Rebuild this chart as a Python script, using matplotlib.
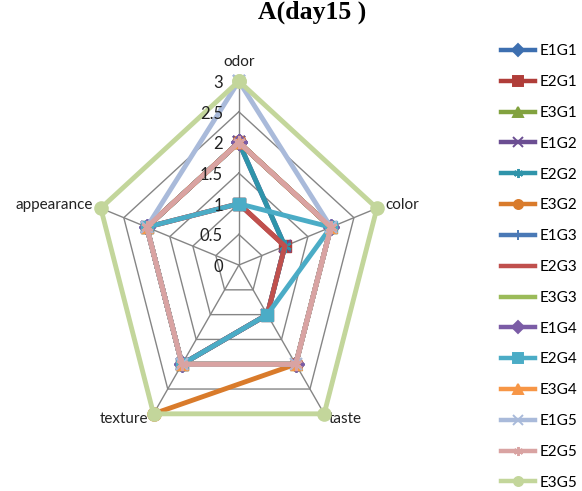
#%% Initialize workspace
import numpy as np
import matplotlib.pyplot as plt
from matplotlib.lines import Line2D

#%% data
categories = ["odor", "color", "taste", "texture", "appearance"]
series_names = ["E1G1", "E2G1", "E3G1", "E1G2", "E2G2", "E3G2", "E1G3", "E2G3",
                "E3G3", "E1G4", "E2G4", "E3G4", "E1G5", "E2G5", "E3G5"]
values = [
    [2, 2, 2, 2, 2],        # E1G1
    [1, 1, 1, 2, 2],        # E2G1
    [2, 2, 2, 2, 2],        # E3G1
    [2, 1, 1, 2, 2],        # E1G2
    [2, 1, 1, 2, 2],        # E2G2
    [2, 2, 2, 3, np.nan],   # E3G2 (appearance not visible)
    [2, 2, 2, 2, 2],        # E1G3
    [1, 1, 1, 2, 2],        # E2G3
    [2, 2, 2, 2, 2],        # E3G3
    [2, 2, 2, 2, 2],        # E1G4
    [1, 2, 1, 2, 2],        # E2G4
    [2, 2, 2, 2, 2],        # E3G4
    [3, 2, 2, 2, 2],        # E1G5
    [2, 2, 2, 2, 2],        # E2G5
    [3, 3, 3, 3, 3],        # E3G5
]
tick_values = [0, 0.5, 1, 1.5, 2, 2.5, 3]

#%% styles
colors = ["#3d6fb0", "#b03d39", "#82a23f", "#6b4e92", "#2f94aa", "#d97b2b",
          "#4a79b6", "#c0504d", "#9bbb59", "#7b5ca6", "#4bacc6", "#f79646",
          "#a9bada", "#d9a3a2", "#c3d69b"]
markers = ["D", "s", "^", "x", (6, 2, 0), "o", "|", None,
           None, "D", "s", "^", "x", (6, 2, 0), "o"]

#%% geometry
n = len(categories)
theta = np.arange(n) * 2 * np.pi / n

def to_xy(r):
    r = np.asarray(r, dtype=float)
    return r * np.sin(theta), r * np.cos(theta)

fig = plt.figure(figsize=(5.82, 4.91), dpi=100)
ax = fig.add_axes([0.1194, 0.0232, 0.582, 0.874])
ax.set_xlim(-3.5, 3.5)
ax.set_ylim(-3.5, 3.5)
ax.axis("off")

grid_col = "#858585"
for t in tick_values[1:]:
    gx, gy = to_xy([t] * n)
    ax.plot(np.append(gx, gx[0]), np.append(gy, gy[0]), color=grid_col, lw=1.0, zorder=1)
sx, sy = to_xy([3] * n)
for i in range(n):
    ax.plot([0, sx[i]], [0, sy[i]], color=grid_col, lw=1.0, zorder=1)

#%% series
for k, (name, vals) in enumerate(zip(series_names, values)):
    px, py = to_xy(vals)
    m = markers[k]
    ms = 9.5 if m == "o" else (8.5 if m in ("s", "D", "^") else 9)
    mew = 1.6 if m in ("x", "|", (6, 2, 0)) else 1
    ax.plot(np.append(px, px[0]), np.append(py, py[0]), color=colors[k], lw=3.5,
            marker=m, markersize=ms, markeredgewidth=mew,
            markerfacecolor=colors[k], markeredgecolor=colors[k],
            solid_joinstyle="miter", zorder=2 + k, label=name)

#%% labels
lab_font = dict(family="Lato", fontsize=11, color="#222222")
ax.text(0, 3.2, "odor", ha="center", va="bottom", **lab_font)
lx, ly = to_xy([3.18] * n)
ax.text(lx[1], ly[1], "color", ha="left", va="center", **lab_font)
ax.text(sx[2] + 0.1, sy[2] - 0.09, "taste", ha="left", va="center", **lab_font)
ax.text(sx[3] - 0.1, sy[3] - 0.09, "texture", ha="right", va="center", **lab_font)
ax.text(lx[4], ly[4], "appearance", ha="right", va="center", **lab_font)

for t in tick_values:
    ax.text(-0.33, t - 0.03, f"{t:g}", ha="right", va="center",
            family="Lato", fontsize=12, color="#222222", zorder=30)

fig.suptitle("A(day15 )", x=0.536, y=0.998, fontsize=18.5, fontweight="bold",
             family="Liberation Serif")

handles = [Line2D([], [], color=colors[k], lw=3.2, marker=markers[k],
                  markersize=6.5, markerfacecolor=colors[k], markeredgecolor=colors[k],
                  markeredgewidth=1.4)
           for k in range(len(series_names))]
fig.legend(handles, series_names, loc="upper left", bbox_to_anchor=(0.851, 0.922),
           frameon=False, prop=dict(family="Lato", size=11), labelspacing=1.1,
           handlelength=2.2, handletextpad=0.3, borderaxespad=0)

fig.savefig("out.png", dpi=100)
